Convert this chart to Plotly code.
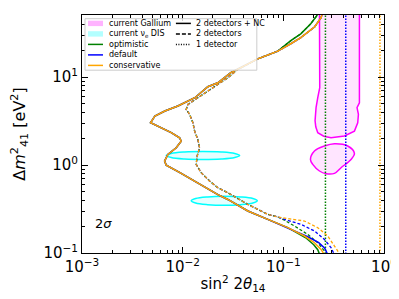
import plotly.graph_objects as go

# ---------------- data ----------------
# shared upper branch of the 2-detector contours (x = sin^2 2theta, y = dm^2)
top_x = [0.249, 0.2369, 0.2051, 0.1873, 0.149, 0.1186, 0.0881, 0.0558, 0.0353]
top_y = [55.4, 47.2, 37.3, 34.5, 28.0, 23.9, 19.7, 16.1, 12.2]
opt_top_x = [0.2248, 0.2148, 0.1873, 0.149, 0.1186, 0.0881, 0.0558, 0.0353]
opt_top_y = [55.4, 49.7, 40.3, 31.0, 25.9, 19.7, 16.1, 12.2]

# 2 detectors + NC (solid), middle part shared by all configs
solid_mid_x = [0.0301, 0.02237, 0.0178, 0.01322, 0.00897, 0.00666, 0.0053, 0.0048,
               0.00568, 0.0077, 0.00932, 0.00967, 0.00863, 0.00713, 0.00662, 0.00687,
               0.00939, 0.01264, 0.0165, 0.02237, 0.0281, 0.0444, 0.0701, 0.1107]
solid_mid_y = [11.2, 8.61, 7.76, 5.82, 4.68, 4.11, 3.61, 3.02, 2.77, 2.33, 2.04, 1.87,
               1.57, 1.32, 1.11, 0.995, 0.818, 0.672, 0.552, 0.46, 0.406, 0.300, 0.241, 0.194]
solid_tail_x = {"optimistic": [0.167, 0.2005, 0.2198, 0.23],
                "default": [0.1748, 0.2248, 0.2578, 0.2762],
                "conservative": [0.1622, 0.2038, 0.2369, 0.2561]}
solid_tail_y = {"optimistic": [0.149, 0.124, 0.109, 0.0956],
                "default": [0.153, 0.1309, 0.1134, 0.0956],
                "conservative": [0.156, 0.1309, 0.110, 0.0956]}

# 2 detectors (dashed)
dash_mid_x = [0.0281, 0.02237, 0.0178, 0.01313, 0.01127, 0.01084, 0.01172, 0.01264,
              0.01313, 0.01416, 0.01472, 0.01394, 0.01362, 0.01527, 0.0185, 0.02237,
              0.0281, 0.0444, 0.0701, 0.0881]
dash_mid_y = [9.82, 8.28, 6.93, 5.57, 4.88, 4.28, 3.76, 3.02, 2.43, 1.95, 1.57, 1.266,
              1.016, 0.818, 0.658, 0.552, 0.484, 0.357, 0.275, 0.2565]
dash_tail_x = {"optimistic": [0.1027, 0.129, 0.1748, 0.2198, 0.2561, 0.2638],
               "default": [0.1027, 0.150, 0.2038, 0.2561, 0.2978, 0.322],
               "conservative": [0.1186, 0.1622, 0.2198, 0.2762, 0.322, 0.347, 0.355]}
dash_tail_y = {"optimistic": [0.236, 0.2027, 0.1627, 0.1309, 0.1054, 0.0956],
               "default": [0.241, 0.2113, 0.178, 0.1427, 0.1149, 0.0956],
               "conservative": [0.242, 0.231, 0.194, 0.156, 0.120, 0.1054, 0.0956]}

# 1 detector (dotted, vertical)
one_det_x = {"optimistic": 0.262, "default": 0.417, "conservative": 0.912}
one_det_y = [0.09, 60.0]

# current Gallium allowed region
gal_band_x = [0.2285, 0.2285, 0.2300, 0.2198, 0.2114, 0.2066, 0.2100, 0.2198, 0.2521,
              0.2978, 0.4045, 0.5083, 0.5482, 0.5571, 0.5395, 0.5700, 0.5700, 0.5700]
gal_band_y = [55.4, 21.5, 7.55, 5.82, 4.48, 3.19, 2.72, 2.33, 2.125, 2.04, 2.14, 2.43,
              3.02, 3.76, 4.48, 5.10, 7.55, 55.4]
gal_isl_x = [0.186, 0.2038, 0.2561, 0.322, 0.436, 0.5083, 0.470, 0.3743, 0.322, 0.2656,
             0.2285, 0.196, 0.186]
gal_isl_y = [1.158, 1.442, 1.644, 1.746, 1.644, 1.355, 1.158, 0.932, 0.803, 0.796, 0.855,
             1.016, 1.158]

# current nu_e DIS allowed islands
dis1_x = [0.0368, 0.0329, 0.0242, 0.0159, 0.01045, 0.00769, 0.00687, 0.00769, 0.01045,
          0.0159, 0.0242, 0.0329, 0.0368]
dis1_y = [1.282, 1.352, 1.405, 1.423, 1.405, 1.352, 1.282, 1.217, 1.170, 1.155, 1.170,
          1.217, 1.282]
dis2_x = [0.0551, 0.0498, 0.0378, 0.0259, 0.0177, 0.01346, 0.01216, 0.01346, 0.0177,
          0.0259, 0.0378, 0.0498, 0.0551]
dis2_y = [0.392, 0.416, 0.434, 0.4406, 0.434, 0.416, 0.392, 0.3694, 0.354, 0.348, 0.354,
          0.3694, 0.392]

configs = ["optimistic", "default", "conservative"]
colors = {"optimistic": "green", "default": "blue", "conservative": "orange"}
x_tick_vals = [1e-3, 1e-2, 1e-1, 1]
x_tick_text = ["10<sup>−3</sup>", "10<sup>−2</sup>", "10<sup>−1</sup>", "10<sup>0</sup>"]
y_tick_vals = [1e-1, 1, 10]
y_tick_text = ["10<sup>−1</sup>", "10<sup>0</sup>", "10<sup>1</sup>"]
legend_col1 = ["current Gallium", "current ν<sub>e</sub> DIS", "optimistic", "default",
               "conservative"]
legend_col2 = ["2 detectors + NC", "2 detectors", "1 detector"]

# ---------------- figure ----------------
fig = go.Figure()

fig.add_trace(go.Scatter(x=gal_band_x, y=gal_band_y, mode="lines", fill="toself",
                         fillcolor="rgba(255,0,255,0.1)",
                         line=dict(color="magenta", width=1.5), showlegend=False))
fig.add_trace(go.Scatter(x=gal_isl_x, y=gal_isl_y, mode="lines", fill="toself",
                         fillcolor="rgba(255,0,255,0.1)", line_shape="spline",
                         line=dict(color="magenta", width=1.5), showlegend=False))
for ex, ey in [(dis1_x, dis1_y), (dis2_x, dis2_y)]:
    fig.add_trace(go.Scatter(x=ex, y=ey, mode="lines", fill="toself",
                             fillcolor="rgba(0,255,255,0.1)", line_shape="spline",
                             line=dict(color="cyan", width=1.5), showlegend=False))

for c in configs:
    tx = opt_top_x if c == "optimistic" else top_x
    ty = opt_top_y if c == "optimistic" else top_y
    # dotted: 1 detector
    fig.add_trace(go.Scatter(x=[one_det_x[c]] * 2, y=one_det_y, mode="lines",
                             line=dict(color=colors[c], width=1.5, dash="1.5px,1.5px"),
                             showlegend=False))
    # dashed: 2 detectors
    fig.add_trace(go.Scatter(x=tx + dash_mid_x + dash_tail_x[c],
                             y=ty + dash_mid_y + dash_tail_y[c], mode="lines",
                             line=dict(color=colors[c], width=1.3, dash="3px,2px"),
                             showlegend=False))
    # solid: 2 detectors + NC
    fig.add_trace(go.Scatter(x=tx + solid_mid_x + solid_tail_x[c],
                             y=ty + solid_mid_y + solid_tail_y[c], mode="lines",
                             line=dict(color=colors[c], width=1.5),
                             showlegend=False))

# ---------------- layout ----------------
L, R, T, B = 74, 376.3, 7.3, 245.3
W, H = 399, 299


def px_x(p):
    return (p - L) / (R - L)


def px_y(p):
    return (B - p) / (B - T)


shapes = [dict(type="rect", xref="paper", yref="paper", x0=px_x(77), x1=px_x(249),
               y0=px_y(62.5), y1=px_y(11), fillcolor="rgba(255,255,255,0.8)",
               line=dict(color="#cccccc", width=1), layer="above")]
annotations = []
row_y = [15.7, 26.2, 36.7, 47.2, 57.7]
patch_fill = ["#ffb3ff", "#b3ffff"]
for i, lab in enumerate(legend_col1):
    yy = row_y[i]
    if i < 2:
        shapes.append(dict(type="rect", xref="paper", yref="paper", x0=px_x(80),
                           x1=px_x(95), y0=px_y(yy + 2.7), y1=px_y(yy - 2.7),
                           fillcolor=patch_fill[i], line=dict(width=0), layer="above"))
    else:
        shapes.append(dict(type="line", xref="paper", yref="paper", x0=px_x(80),
                           x1=px_x(95), y0=px_y(yy), y1=px_y(yy),
                           line=dict(color=colors[configs[i - 2]], width=1.5),
                           layer="above"))
    annotations.append(dict(x=px_x(99.5), y=px_y(yy), xref="paper", yref="paper",
                            text=lab, showarrow=False, xanchor="left", yanchor="middle",
                            font=dict(size=8, color="black")))
dashes = ["solid", "4px,2px", "1px,1.5px"]
for i, lab in enumerate(legend_col2):
    yy = row_y[i]
    shapes.append(dict(type="line", xref="paper", yref="paper", x0=px_x(168),
                       x1=px_x(183), y0=px_y(yy), y1=px_y(yy),
                       line=dict(color="black", width=1.5, dash=dashes[i]),
                       layer="above"))
    annotations.append(dict(x=px_x(186.5), y=px_y(yy), xref="paper", yref="paper",
                            text=lab, showarrow=False, xanchor="left", yanchor="middle",
                            font=dict(size=8, color="black")))

annotations.append(dict(x=px_x(96), y=px_y(216), xref="paper", yref="paper",
                        text="2<i>σ</i>", showarrow=False, xanchor="center",
                        yanchor="middle", font=dict(size=13, color="black")))

x_minor = [m * 10.0 ** e for e in range(-3, 0) for m in range(2, 10)]
y_minor = [m * 10.0 ** e for e in range(-1, 2) for m in range(2, 10)]

axis_common = dict(type="log", showgrid=False, zeroline=False, showline=True,
                   linecolor="black", linewidth=1, mirror="allticks", ticks="inside",
                   ticklen=6, tickwidth=1, tickcolor="black",
                   tickfont=dict(size=15, color="black"))

fig.update_layout(
    width=W, height=H,
    margin=dict(l=L, r=W - R, t=T, b=H - B),
    paper_bgcolor="white", plot_bgcolor="white",
    font=dict(family="DejaVu Sans", color="black"),
    showlegend=False,
    shapes=shapes, annotations=annotations,
    xaxis=dict(**axis_common, range=[-3, 0], tickmode="array", tickvals=x_tick_vals,
               ticktext=x_tick_text,
               minor=dict(tickmode="array", tickvals=x_minor, ticks="inside", ticklen=3,
                          tickcolor="black", tickwidth=0.8),
               title=dict(text="sin<sup>2</sup> 2<i>θ</i><sub>14</sub>",
                          font=dict(size=15), standoff=3)),
    yaxis=dict(**axis_common, range=[-1, 1.705], tickmode="array", tickvals=y_tick_vals,
               ticktext=y_tick_text,
               minor=dict(tickmode="array", tickvals=y_minor, ticks="inside", ticklen=3,
                          tickcolor="black", tickwidth=0.8),
               title=dict(text="Δ<i>m</i><sup>2</sup><sub>41</sub> [eV<sup>2</sup>]",
                          font=dict(size=16), standoff=14)),
)

fig.write_html("out.html")
